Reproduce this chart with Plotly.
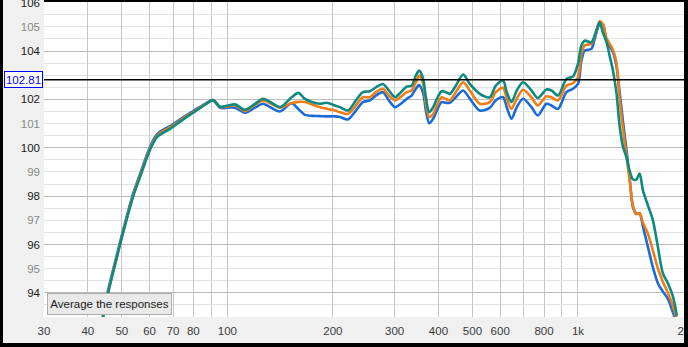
import math
import plotly.graph_objects as go

# ---------------- data ----------------
freq_hz = [43.5, 44.25, 45.72, 47.86, 49.8, 53.86, 57.03, 60.23, 63.05, 65.59, 68.68,
           73.33, 79.86, 86.41, 91.06, 95.33, 100.5, 105.2, 112.3, 119.9, 126.4,
           134.1, 141.3, 152.6, 159.4, 166.5, 174.3, 183.7, 192.0, 202.7, 209.4,
           220.7, 232.6, 243.5, 255.0, 265.2, 277.7, 288.9, 300.5, 312.6, 324.5,
           335.3, 344.9, 352.4, 361.8, 368.3, 376.3, 386.3, 395.8, 408.3, 419.9,
           431.0, 448.3, 470.4, 491.5, 524.8, 560.3, 582.8, 611.4, 626.5, 646.1,
           669.0, 697.2, 736.7, 767.9, 812.8, 839.9, 877.1, 926.8, 967.8, 1000.0,
           1022.6, 1044.9, 1092.0, 1115.9, 1153.1, 1178.3, 1204.6, 1231.3, 1258.2,
           1286.5, 1314.7, 1343.4, 1373.7, 1403.8, 1434.5, 1466.9, 1499.0, 1531.8,
           1582.7, 1635.6, 1689.9, 1746.4, 1804.5, 1864.8, 1914.4]

spl_blue = [92.65, 93.1, 94.12, 95.28, 96.28, 98.1, 99.12, 100.05, 100.56, 100.74, 100.9,
            101.18, 101.52, 101.82, 101.97, 101.65, 101.66, 101.66, 101.45, 101.66, 101.82,
            101.64, 101.5, 101.84, 101.6, 101.36, 101.32, 101.31, 101.3, 101.3, 101.27,
            101.17, 101.54, 101.89, 101.96, 102.16, 102.3, 101.96, 101.68, 101.82, 102.02,
            102.16, 102.44, 102.6, 102.25, 101.54, 101.02, 101.2, 101.54, 101.89, 101.86,
            101.86, 102.09, 102.37, 102.03, 101.54, 101.65, 101.96, 102.09, 101.68, 101.2,
            101.68, 102.03, 101.68, 101.34, 101.82, 101.75, 101.61, 102.3, 102.44, 102.64,
            103.6, 104.02, 104.09, 104.5, 105.12, 105.1, 104.45, 104.2, 103.95,
            103.4, 102.3, 101.1, 99.95, 98.75, 97.55, 97.28, 97.28, 96.75,
            95.9, 95.05, 94.4, 94.05, 93.75, 93.2, 92.7]

spl_orange = [92.6, 93.05, 94.05, 95.22, 96.22, 98.04, 99.06, 99.99, 100.5, 100.68, 100.84,
              101.13, 101.48, 101.8, 101.97, 101.68, 101.72, 101.76, 101.52, 101.77, 101.96,
              101.8, 101.66, 101.85, 101.9, 101.89, 101.79, 101.68, 101.61, 101.54, 101.47,
              101.4, 101.75, 102.09, 102.09, 102.3, 102.44, 102.16, 101.96, 102.11, 102.3,
              102.37, 102.71, 102.99, 102.65, 101.82, 101.27, 101.4, 101.75, 102.09, 102.02,
              101.96, 102.3, 102.71, 102.37, 101.82, 101.89, 102.3, 102.48, 102.03, 101.61,
              102.03, 102.4, 102.09, 101.75, 102.13, 102.09, 101.96, 102.57, 102.67, 102.92,
              103.88, 104.23, 104.3, 104.6, 105.23, 105.1, 104.55, 104.3, 104.05,
              103.55, 102.0, 100.8, 99.7, 98.65, 97.6, 97.25, 97.3, 96.9,
              96.45, 95.75, 95.0, 94.45, 94.0, 93.45, 92.9]

spl_teal = [92.55, 93.0, 94.0, 95.18, 96.18, 97.98, 99.0, 99.93, 100.45, 100.62, 100.78,
            101.08, 101.45, 101.78, 101.97, 101.7, 101.75, 101.8, 101.57, 101.82, 102.03,
            101.85, 101.68, 102.09, 102.27, 102.02, 101.89, 101.82, 101.86, 101.75, 101.68,
            101.54, 101.96, 102.3, 102.34, 102.5, 102.64, 102.37, 102.09, 102.3, 102.53,
            102.57, 102.99, 103.19, 102.85, 102.09, 101.47, 101.68, 102.02, 102.34, 102.3,
            102.23, 102.57, 103.03, 102.64, 102.23, 102.09, 102.57, 102.78, 102.3, 101.89,
            102.37, 102.71, 102.37, 102.06, 102.41, 102.37, 102.16, 102.85, 102.95, 103.47,
            104.23, 104.43, 104.36, 104.64, 105.19, 104.75, 104.4, 103.8, 103.2,
            102.3, 100.9, 100.05, 99.62, 99.05, 98.7, 98.68, 98.93, 98.24,
            97.62, 97.0, 95.9, 94.8, 94.4, 93.85, 93.05]

x_tick_vals = [30, 40, 50, 60, 70, 80, 100, 200, 300, 400, 500, 600, 800, 1000, 2000]
x_tick_text = ["30", "40", "50", "60", "70", "80", "100", "200", "300", "400",
               "500", "600", "800", "1k", "2k"]
x_minor_grid = [90, 700, 900]
x_major_grid = [100, 1000]
y_even_ticks = [94, 96, 98, 100, 102, 104, 106]
y_odd_ticks = [95, 97, 99, 101, 105]   # 103 sits behind the cursor read-out
x_range_hz = [30, 2006]
y_range_db = [93, 106.03]
cursor_db = 102.81
button_label = "Average the responses"

# ---------------- figure ----------------
FONT = "Liberation Sans, Arial, sans-serif"
W, H = 688, 347
ML, MR, MT, MB = 44, 4, 2, 30
PW, PH = W - ML - MR, H - MT - MB


def px_x(px):
    return (px - ML) / PW


def px_y(py):
    return (H - MB - py) / PH


fig = go.Figure()
series = [("blue", spl_blue, "#1a6ad8", "y"),
          ("orange", spl_orange, "#f07d14", "y"),
          ("teal", spl_teal, "#0c8a7f", "y2")]
for name, vals, col, yax in series:
    fig.add_trace(go.Scatter(x=freq_hz, y=vals, mode="lines", name=name, yaxis=yax,
                             line=dict(color=col, width=2.6, shape="spline", smoothing=0.8),
                             hoverinfo="skip", showlegend=False))

xr = [math.log10(x_range_hz[0]), math.log10(x_range_hz[1])]

fig.update_layout(
    width=W, height=H,
    margin=dict(l=ML, r=MR, t=MT, b=MB, pad=0, autoexpand=False),
    paper_bgcolor="#f0f0f0",
    plot_bgcolor="#ffffff",
    font=dict(family=FONT, size=11, color="#333333"),
    xaxis=dict(type="log", range=xr, tickmode="array", tickvals=x_tick_vals,
               ticktext=x_tick_text, showgrid=True, gridcolor="#c6c6c6", gridwidth=1,
               minor=dict(tickmode="array", tickvals=x_minor_grid, showgrid=True,
                          gridcolor="#c6c6c6", gridwidth=1, ticks=""),
               ticks="", zeroline=False, showline=False, ticklabelstandoff=5,
               ticklabeloverflow="allow", automargin=False,
               tickfont=dict(family=FONT, size=11.5, color="#3a3a3a")),
    xaxis2=dict(type="log", range=xr, overlaying="x", anchor="y", tickmode="array",
                tickvals=x_major_grid, showticklabels=False, showgrid=True, automargin=False,
                gridcolor="#8c8c8c", gridwidth=1, ticks="", zeroline=False, showline=False),
    yaxis=dict(range=y_range_db, tickmode="array", tickvals=y_even_ticks,
               ticktext=[str(v) for v in y_even_ticks], showgrid=True,
               gridcolor="#bababa", gridwidth=1,
               minor=dict(tickmode="linear", tick0=93, dtick=0.5, showgrid=True,
                          gridcolor="#e2e2e2", gridwidth=1, ticks=""),
               ticks="", zeroline=False, showline=False, ticklabelstandoff=3,
               ticklabeloverflow="allow", automargin=False,
               tickfont=dict(family=FONT, size=11.5, color="#1a1a1a")),
    yaxis2=dict(range=y_range_db, overlaying="y", anchor="x", side="left",
                tickmode="array", tickvals=y_odd_ticks,
                ticktext=[str(v) for v in y_odd_ticks], showgrid=False,
                ticks="", zeroline=False, showline=False, ticklabelstandoff=3,
                ticklabeloverflow="allow", automargin=False,
                tickfont=dict(family=FONT, size=11.5, color="#8a8a8a")),
)

# cursor line
fig.add_shape(type="line", xref="paper", x0=0, x1=1, yref="y", y0=cursor_db, y1=cursor_db,
              line=dict(color="#000000", width=1.5), layer="above")
fig.add_annotation(xref="paper", x=0, xanchor="right", xshift=-1, yref="y", y=cursor_db,
                   yanchor="middle", text=f"{cursor_db:.2f}", showarrow=False,
                   font=dict(family=FONT, size=11.5, color="#0000ff"),
                   bgcolor="#ffffff", bordercolor="#0000ff", borderwidth=1, borderpad=1,
                   width=35, height=13)

# button
fig.add_annotation(xref="paper", x=px_x(46.5), xanchor="left", yref="paper", y=px_y(314.5),
                   yanchor="bottom", text=button_label, showarrow=False,
                   font=dict(family=FONT, size=11.5, color="#1a1a1a"),
                   bgcolor="#e9e9e9", bordercolor="#adadad", borderwidth=1, borderpad=2,
                   width=119, height=16)

# window frame
frame = [(0, 3, 0, H), (684, W, 0, H), (0, W, 343, H), (ML, W, 0, 2)]
for x0, x1, y0, y1 in frame:
    fig.add_shape(type="rect", xref="paper", yref="paper",
                  x0=px_x(x0), x1=px_x(x1), y0=px_y(y1), y1=px_y(y0),
                  fillcolor="#000000", line=dict(width=0), layer="above")

fig.write_html("out.html")
